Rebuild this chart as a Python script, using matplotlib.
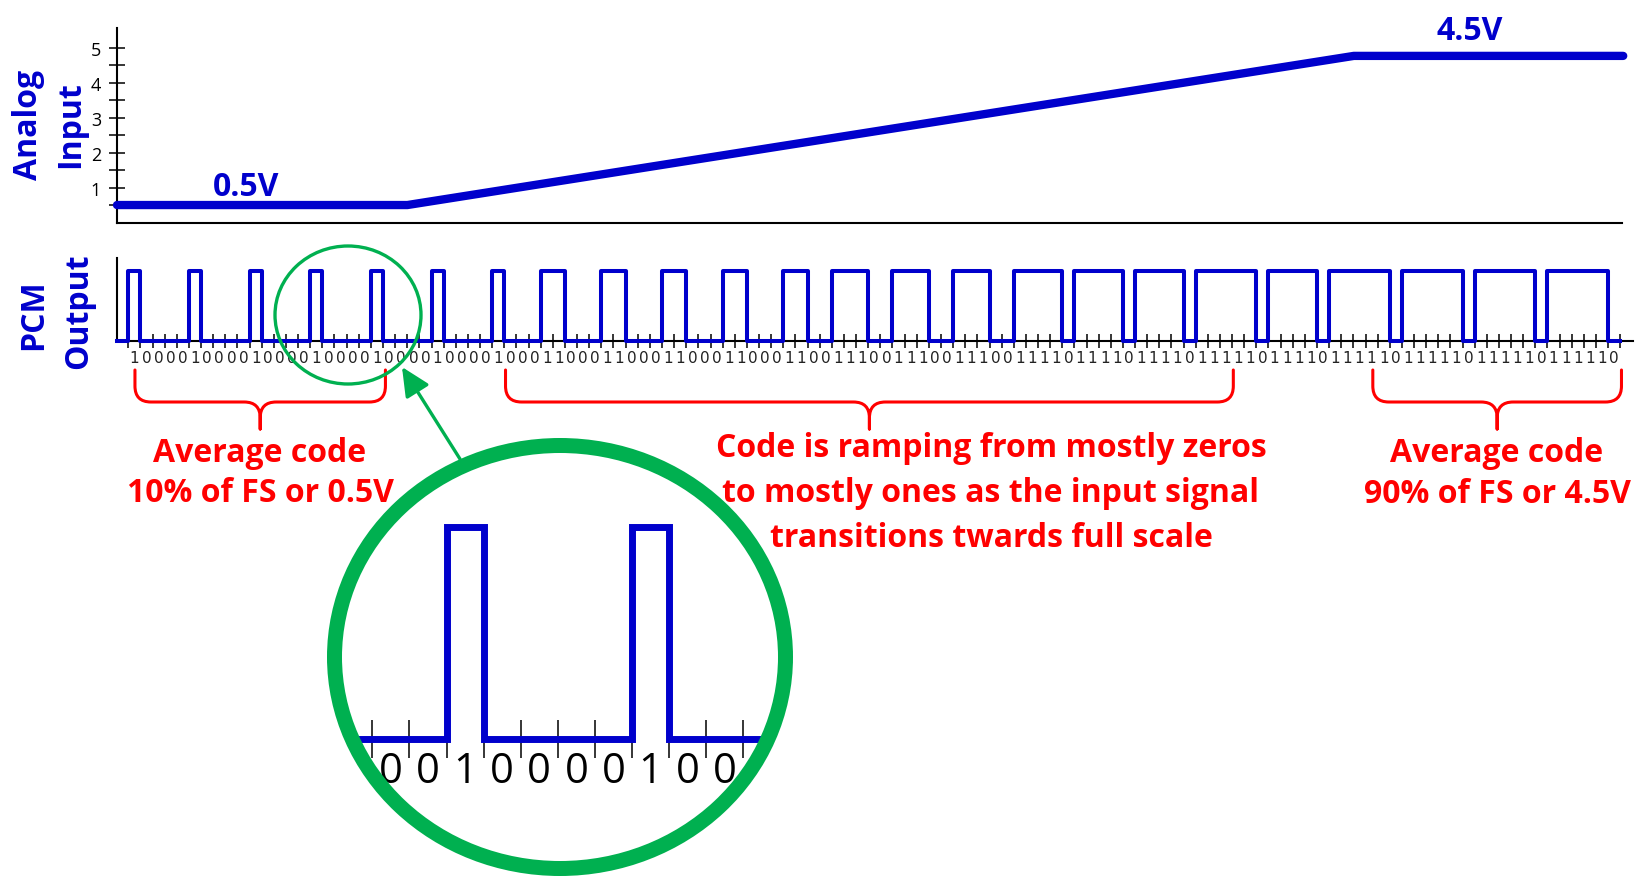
import numpy as np
import matplotlib
matplotlib.use("Agg")
import matplotlib.pyplot as plt
from matplotlib.patches import Ellipse, FancyArrowPatch, PathPatch, ArrowStyle
from matplotlib.path import Path

plt.rcParams['font.family'] = ['Open Sans', 'DejaVu Sans']

# ---------------- data ----------------
PCM_BITS = ("100001000010000100001000010000" "1000"
            "11000110001100011000" "1100"
            "111001110011100" "111101111011110"
            "111110" "11110" "111110111110111110111110")
ZOOM_BITS = "0010000100"             # magnified excerpt of the bit stream

analog_t = [-0.93, 23.0, 101.0, 123.2]   # time in bit periods
analog_v = [0.5, 0.5, 4.77, 4.77]        # volts (as drawn)
volt_ticks = [1, 2, 3, 4, 5]
volt_minor = [0.5, 1.5, 2.5, 3.5, 4.5]

brace_spans = [(0.55, 21.2), (31.1, 91.1), (102.6, 123.1)]   # in bit periods
left_note = ["Average code", "10% of FS or 0.5V"]
mid_note = ["Code is ramping from mostly zeros",
            "to mostly ones as the input signal",
            "transitions twards full scale"]
right_note = ["Average code", "90% of FS or 4.5V"]

# ---------------- style ----------------
BLUE = '#0000CC'
RED = '#FF0000'
GREEN = '#00B050'
W, H = 1646, 878

fig = plt.figure(figsize=(W / 100, H / 100), dpi=100)


def px_axes(x0, y0, x1, y1):
    return fig.add_axes([x0 / W, 1 - y1 / H, (x1 - x0) / W, (y1 - y0) / H])


bits = np.array([int(c) for c in PCM_BITS])
n = len(bits)

# ---------------- analog input panel ----------------
ax_a = px_axes(117, 29.3, 1622, 223.5)
ax_a.set_xlim(-0.93, 123.1)
ax_a.set_ylim(0, 5.56)
ax_a.plot(analog_t, analog_v, color=BLUE, lw=6, solid_capstyle='round',
          solid_joinstyle='round', clip_on=False, zorder=5)
for s in ['top', 'right']:
    ax_a.spines[s].set_visible(False)
for s in ['left', 'bottom']:
    ax_a.spines[s].set_linewidth(1.5)
ax_a.set_xticks([])
ax_a.set_yticks(volt_ticks, [str(v) for v in volt_ticks])
ax_a.set_yticks(volt_minor, minor=True)
ax_a.tick_params(axis='y', which='both', direction='inout', length=11,
                 width=1.1, pad=6, labelsize=13)
ax_a.patch.set_alpha(0)

# ---------------- PCM output panel ----------------
ax_p = px_axes(117, 259, 1633, 341.5)
ax_p.set_xlim(-0.93, 124.05)
ax_p.set_ylim(0, 1.19)
t = np.concatenate([[-0.93], np.arange(n + 1)])
y = np.concatenate([[0], bits, [bits[-1]]])
ax_p.step(t, y, where='post', color=BLUE, lw=2.9, clip_on=False, zorder=5)
for s in ['top', 'right']:
    ax_p.spines[s].set_visible(False)
for s in ['left', 'bottom']:
    ax_p.spines[s].set_linewidth(1.5)
ax_p.set_yticks([])
ax_p.set_xticks(np.arange(n + 1), [''] * (n + 1))
ax_p.set_xticks(np.arange(n) + 0.5, [str(b) for b in bits], minor=True)
ax_p.tick_params(axis='x', which='major', direction='inout', length=10, width=1.1)
ax_p.tick_params(axis='x', which='minor', length=0, pad=6.5, labelsize=11,
                 labelcolor='#222222')
for lab in ax_p.get_xticklabels(minor=True):
    lab.set_fontfamily('DejaVu Sans')
ax_p.patch.set_alpha(0)

# ---------------- magnified excerpt ----------------
zb = np.array([int(c) for c in ZOOM_BITS])
m = len(zb)
ax_z = px_axes(358, 528, 762, 740)
ax_z.set_xlim(-0.385, 10.5)
ax_z.set_ylim(0, 1)
tz = np.concatenate([[-0.385], np.arange(m + 1), [10.5]])
yz = np.concatenate([[0], zb, [zb[-1]], [zb[-1]]])
ax_z.step(tz, yz, where='post', color=BLUE, lw=5, clip_on=False,
          solid_joinstyle='miter', zorder=5)
for s in ax_z.spines.values():
    s.set_visible(False)
ax_z.set_yticks([])
ax_z.set_xticks(np.arange(m + 1), [''] * (m + 1))
ax_z.set_xticks(np.arange(m) + 0.5, list(ZOOM_BITS), minor=True)
ax_z.tick_params(axis='x', which='major', direction='inout', length=27, width=1.1)
ax_z.tick_params(axis='x', which='minor', length=0, pad=8, labelsize=30)
ax_z.patch.set_alpha(0)

# ---------------- overlay (annotations) ----------------
ov = fig.add_axes([0, 0, 1, 1])
ov.set_xlim(0, W)
ov.set_ylim(H, 0)
ov.set_axis_off()

fig.canvas.draw()


def bit_to_px(b):
    return ax_p.transData.transform((b, 0))[0]


def brace(x0, x1, ytop=371, yh=403, ytip=430, r=16, rt=16):
    xt = (x0 + x1) / 2
    verts = [(x0, ytop), (x0, yh - r), (x0, yh), (x0 + r, yh),
             (xt - rt, yh), (xt, yh), (xt, yh + rt), (xt, ytip),
             (xt, yh + rt), (xt, yh), (xt + rt, yh),
             (x1 - r, yh), (x1, yh), (x1, yh - r), (x1, ytop)]
    codes = [Path.MOVETO, Path.LINETO, Path.CURVE3, Path.CURVE3,
             Path.LINETO, Path.CURVE3, Path.CURVE3, Path.LINETO,
             Path.LINETO, Path.CURVE3, Path.CURVE3,
             Path.LINETO, Path.CURVE3, Path.CURVE3, Path.LINETO]
    ov.add_patch(PathPatch(Path(verts, codes), fill=False, ec=RED, lw=2.2,
                           joinstyle='round', capstyle='round'))
    return xt


for (b0, b1) in brace_spans:
    brace(bit_to_px(b0), bit_to_px(b1))

tb = dict(fontsize=23, fontweight='bold', ha='center', va='center')
for i, line in enumerate(left_note):
    ov.text(260, 454 + 40 * i, line, color=RED, **tb)
for i, line in enumerate(mid_note):
    ov.text(991, 449 + 45 * i, line, color=RED, **tb)
for i, line in enumerate(right_note):
    ov.text(1497, 454 + 41 * i, line, color=RED, **tb)

ov.text(246, 187, "0.5V", color=BLUE, **tb)
ov.text(1470, 32, "4.5V", color=BLUE, **tb)
ov.text(29, 125, "Analog", color=BLUE, rotation=90, **tb)
ov.text(71, 125, "Input", color=BLUE, rotation=90, **tb)
ov.text(34, 315, "PCM", color=BLUE, rotation=90, **tb)
ov.text(79, 311, "Output", color=BLUE, rotation=90, **tb)

# circles and arrow
ov.add_patch(Ellipse((348, 316), 146, 138, fill=False, ec=GREEN, lw=2.4))
ov.add_patch(Ellipse((560, 658), 451, 423, fill=False, ec=GREEN, lw=10.8))
ov.add_patch(FancyArrowPatch((460, 460), (402, 368),
                             arrowstyle=ArrowStyle('-|>', head_length=17.5, head_width=8.3),
                             mutation_scale=1, lw=2.4, color=GREEN,
                             shrinkA=0, shrinkB=0))

fig.savefig("out.png", dpi=100)
